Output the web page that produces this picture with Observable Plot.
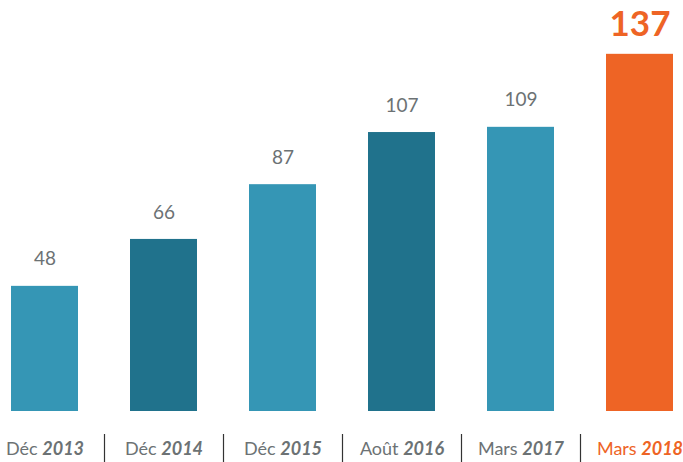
<!DOCTYPE html>
<html>
<head>
<meta charset="utf-8">
<script src="https://cdn.jsdelivr.net/npm/d3@7"></script>
<script src="https://cdn.jsdelivr.net/npm/@observablehq/plot@0.6"></script>
<style>
  html, body { margin: 0; padding: 0; background: #fff; }
  #chart svg { display: block; }
</style>
</head>
<body>
<div id="chart"></div>
<script>
const months = ["Déc", "Déc", "Déc", "Août", "Mars", "Mars"];
const years = ["2013", "2014", "2015", "2016", "2017", "2018"];
const values = [48, 66, 87, 107, 109, 137];

const light = "#3596b5";
const dark = "#20728c";
const accent = "#ee6425";
const gray = "#6c7274";

const n = years.length;
const data = years.map((y, i) => ({key: y, month: months[i], year: y, value: values[i], i}));
const barFill = d => d.i === n - 1 ? accent : (d.i % 2 ? dark : light);
const labelFill = d => d.i === n - 1 ? accent : gray;

const W = 683, H = 462, ml = 11, mr = 10, mt = 46, mb = 51;
const padIn = 0.437;
const step = (W - ml - mr) / (n - padIn);
const pxPerUnit = (H - mt - mb) / 140;

const chart = Plot.plot({
  width: W,
  height: H,
  marginLeft: ml,
  marginRight: mr,
  marginTop: mt,
  marginBottom: mb,
  style: {fontFamily: "Lato, sans-serif", background: "#fff"},
  x: {domain: years, paddingInner: padIn, paddingOuter: 0, axis: null},
  y: {domain: [0, 140], axis: null},
  marks: [
    Plot.barY(data, {x: "key", y: "value", fill: barFill}),
    Plot.text(data.filter(d => d.i < n - 1), {
      x: "key", y: "value", text: d => String(d.value),
      dy: -27, fill: gray, fontSize: 19
    }),
    Plot.text(data.filter(d => d.i === n - 1), {
      x: "key", y: "value", text: d => String(d.value),
      dy: -30, fill: accent, fontSize: 35, fontWeight: 700
    }),
    Plot.ruleX(data.filter(d => d.i < n - 1), {
      x: "key", dx: step / 2,
      y1: -23 / pxPerUnit, y2: -51 / pxPerUnit,
      stroke: "#333", strokeWidth: 1.2
    }),
    Plot.text(data, {
      x: "key", y: 0, text: d => d.month + " " + d.year,
      dy: 38, fill: labelFill, fontSize: 18
    })
  ]
});

// split each category label into a regular month and a bold italic year
const textGroups = d3.select(chart).selectAll('g[aria-label="text"]').nodes();
const labelGroup = textGroups[textGroups.length - 1];
d3.select(labelGroup).selectAll("text").each(function(_, j) {
  const t = d3.select(this);
  const d = data[j];
  t.text(null);
  t.append("tspan").attr("font-weight", 400).text(d.month + " ");
  t.append("tspan").attr("font-weight", 700).attr("font-style", "italic").text(d.year);
});

document.getElementById("chart").appendChild(chart);
</script>
</body>
</html>
